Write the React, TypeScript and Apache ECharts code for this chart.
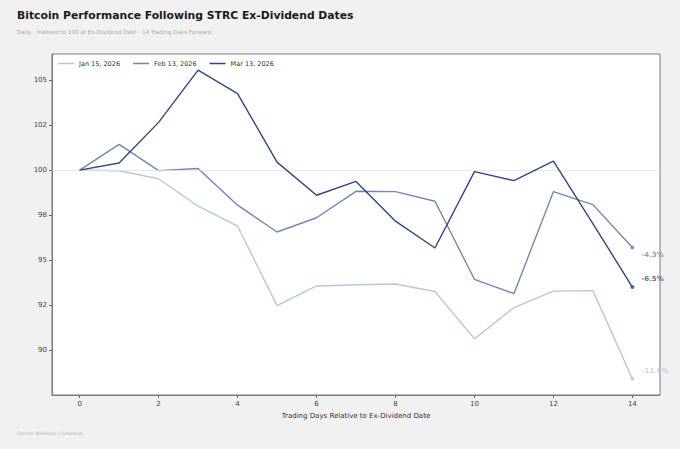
import { useEffect, useRef } from "react";
import * as echarts from "echarts";

const days = [0, 1, 2, 3, 4, 5, 6, 7, 8, 9, 10, 11, 12, 13, 14];

const jan15 = [100, 99.96, 99.52, 97.99, 96.89, 92.47, 93.56, 93.63, 93.67, 93.25, 90.62, 92.36, 93.27, 93.3, 88.4];
const feb13 = [100, 101.43, 99.97, 100.09, 98.05, 96.56, 97.35, 98.82, 98.8, 98.27, 93.93, 93.13, 98.8, 98.08, 95.7];
const mar13 = [100, 100.39, 102.65, 105.55, 104.25, 100.44, 98.6, 99.37, 97.16, 95.67, 99.91, 99.41, 100.5, 97.03, 93.5];

const seriesNames = ["Jan 15, 2026", "Feb 13, 2026", "Mar 13, 2026"];
const seriesColors = ["#b3c9e3", "#7187b4", "#2f4783"];
// label offsets for the end-of-line percentage tags
const endOffsets: [number, number][] = [
  [2, -8],
  [2, 8],
  [2, -8],
];

// matplotlib-style rounded tick labels (half-to-even)
const yTickValues = [90, 92.5, 95, 97.5, 100, 102.5, 105];
const yTickLabels = ["90", "92", "95", "98", "100", "102", "105"];

const FONT = "DejaVu Sans";

export default function App() {
  const ref = useRef<HTMLDivElement>(null);

  useEffect(() => {
    document.body.style.margin = "0";
    if (!ref.current) return;
    const chart = echarts.init(ref.current, undefined, { renderer: "svg" });

    const all = [jan15, feb13, mar13];
    const lines: echarts.SeriesOption[] = all.map((vals, i) => ({
      name: seriesNames[i],
      type: "line",
      data: days.map((d, j) => [d, vals[j]]),
      showSymbol: false,
      symbol: "none",
      lineStyle: { width: 1.4, color: seriesColors[i] },
      itemStyle: { color: seriesColors[i] },
      z: 3 + i,
      markLine:
        i === 0
          ? {
              silent: true,
              symbol: "none",
              label: { show: false },
              lineStyle: { color: "#e2e2e2", width: 0.8, type: "solid" },
              data: [{ yAxis: 100 }],
            }
          : undefined,
    }));

    const ends: echarts.SeriesOption[] = all.map((vals, i) => {
      const last = vals[vals.length - 1];
      const pct = last - 100;
      return {
        name: seriesNames[i] + " end",
        type: "scatter",
        data: [[days[days.length - 1], last]],
        symbolSize: 4,
        itemStyle: { color: seriesColors[i] },
        z: 6,
        label: {
          show: true,
          position: "right",
          offset: endOffsets[i],
          formatter: (pct >= 0 ? "+" : "") + pct.toFixed(1) + "%",
          color: seriesColors[i],
          fontFamily: FONT,
          fontSize: 7,
          fontWeight: "bold",
        },
      };
    });

    chart.setOption({
      animation: false,
      backgroundColor: "#f1f1f1",
      title: [
        {
          text: "Bitcoin Performance Following STRC Ex-Dividend Dates",
          left: 17,
          top: 10,
          padding: 0,
          textStyle: { fontFamily: FONT, fontSize: 10.8, fontWeight: "bold", color: "#1a1a1a" },
        },
        {
          text: "Daily · Indexed to 100 at Ex-Dividend Date · 14 Trading Days Forward",
          left: 17,
          top: 29,
          padding: 0,
          textStyle: { fontFamily: FONT, fontSize: 5.6, fontWeight: "normal", color: "#a8a8a8" },
        },
        {
          text: "Source: Bitstamp | Fundstrat",
          left: 17,
          top: 431,
          padding: 0,
          textStyle: { fontFamily: FONT, fontSize: 4.6, fontWeight: "normal", color: "#b0b0b0" },
        },
      ],
      legend: {
        data: seriesNames,
        left: 58,
        top: 60,
        padding: 0,
        icon: "rect",
        itemWidth: 16,
        itemHeight: 1.5,
        itemGap: 13,
        textStyle: { fontFamily: FONT, fontSize: 6.5, color: "#333" },
      },
      grid: {
        left: 52,
        right: 20,
        top: 54,
        bottom: 54,
        show: true,
        backgroundColor: "#ffffff",
        borderColor: "#7a7a7a",
        borderWidth: 1,
      },
      xAxis: {
        type: "value",
        min: -0.7,
        max: 14.7,
        splitNumber: 8,
        name: "Trading Days Relative to Ex-Dividend Date",
        nameLocation: "middle",
        nameGap: 17,
        nameTextStyle: { fontFamily: FONT, fontSize: 7, color: "#333" },
        axisLine: { show: true, onZero: false, lineStyle: { color: "#7a7a7a" } },
        axisTick: { show: true, length: 3, lineStyle: { color: "#666" } },
        splitLine: { show: false },
        axisLabel: {
          fontFamily: FONT,
          fontSize: 7,
          color: "#444",
          margin: 5,
          showMinLabel: false,
          showMaxLabel: false,
          formatter: (v: number) => (Number.isInteger(v) ? String(v) : ""),
        },
      },
      yAxis: {
        type: "value",
        min: 87.5,
        max: 106.45,
        interval: 2.5,
        axisLine: { show: true, onZero: false, lineStyle: { color: "#7a7a7a" } },
        axisTick: { show: true, length: 3, lineStyle: { color: "#666" } },
        splitLine: { show: false },
        axisLabel: {
          fontFamily: FONT,
          fontSize: 7,
          color: "#444",
          margin: 5,
          showMinLabel: false,
          showMaxLabel: false,
          formatter: (v: number) => {
            const k = yTickValues.indexOf(v);
            return k >= 0 ? yTickLabels[k] : "";
          },
        },
      },
      series: [...lines, ...ends],
    });

    return () => chart.dispose();
  }, []);

  return <div ref={ref} style={{ width: 680, height: 449 }} />;
}
